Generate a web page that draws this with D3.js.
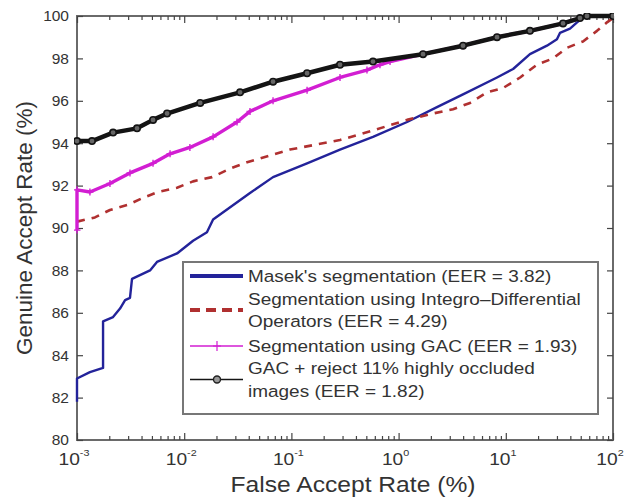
<!DOCTYPE html>
<meta charset="utf-8">
<html>
    <head>
        <style type="text/css">
            body { margin:0; background:#fff; }
            svg { display:block; }
            .graphText { font-family: "Liberation Sans", Arial, sans-serif; fill:#333; }
        </style>
        <script src="https://d3js.org/d3.v7.min.js"></script>
    </head>
    <body>
        <svg width="627" height="497"></svg>
        <script type="text/javascript">
            // FAR (%) vs GAR (%)
            var masekFar = [0.001, 0.001, 0.00132, 0.00175, 0.00175, 0.00217, 0.00252, 0.00281, 0.00312, 0.00326, 0.0048, 0.00557, 0.00857, 0.0121, 0.0163, 0.0186, 0.0411, 0.0674, 0.14, 0.284, 0.577, 1.2, 2.28, 3.99, 8.28, 11.7, 16.8, 24.2, 30, 32, 39.7, 46.2, 52.5, 57.2, 100];
            var masekGar = [81.8, 82.9, 83.2, 83.4, 85.6, 85.8, 86.2, 86.6, 86.7, 87.6, 88.0, 88.4, 88.8, 89.4, 89.8, 90.4, 91.65, 92.4, 93.05, 93.7, 94.3, 95.0, 95.7, 96.3, 97.1, 97.5, 98.2, 98.6, 98.9, 99.2, 99.4, 99.7, 99.9, 100, 100];

            var idoFar = [0.001, 0.00147, 0.00203, 0.00299, 0.00404, 0.0057, 0.00857, 0.0121, 0.0182, 0.0268, 0.0386, 0.097, 0.284, 0.577, 1.2, 2.09, 3.22, 4.64, 6.68, 9.42, 13.6, 19.5, 27.6, 37.2, 52.5, 70.9, 87.9, 100];
            var idoGar = [90.3, 90.5, 90.85, 91.1, 91.4, 91.7, 91.9, 92.2, 92.4, 92.8, 93.1, 93.7, 94.15, 94.6, 95.1, 95.4, 95.6, 95.9, 96.4, 96.6, 97.1, 97.7, 98.0, 98.5, 98.8, 99.3, 99.7, 99.9];

            var gacFar = [0.001, 0.001, 0.00132, 0.00203, 0.00312, 0.00512, 0.00738, 0.0113, 0.0186, 0.0311, 0.0411, 0.0674, 0.14, 0.284, 0.507, 0.67, 0.832, 1.69, 3.99, 8.28, 16.8, 34.2, 49.2, 57.2, 100];
            var gacGar = [89.9, 91.8, 91.7, 92.1, 92.6, 93.05, 93.5, 93.8, 94.3, 95.0, 95.5, 96.0, 96.5, 97.1, 97.45, 97.7, 97.85, 98.2, 98.6, 99.0, 99.3, 99.65, 99.9, 100, 100];

            var rejFar = [0.001, 0.00138, 0.00217, 0.00363, 0.00512, 0.00692, 0.0141, 0.0332, 0.0674, 0.14, 0.284, 0.577, 1.69, 3.99, 8.28, 16.8, 34.2, 49.2, 57.2, 100];
            var rejGar = [94.1, 94.1, 94.5, 94.7, 95.1, 95.4, 95.9, 96.4, 96.9, 97.3, 97.7, 97.85, 98.2, 98.6, 99.0, 99.3, 99.65, 99.9, 100, 100];

            var xTicks = [0.001, 0.01, 0.1, 1, 10, 100];
            var xExps = ["-3", "-2", "-1", "0", "1", "2"];
            var yTicks = [80, 82, 84, 86, 88, 90, 92, 94, 96, 98, 100];

            var legendLines = [
                ["Masek's segmentation (EER = 3.82)"],
                ["Segmentation using Integro\u2013Differential", "Operators (EER = 4.29)"],
                ["Segmentation using GAC (EER = 1.93)"],
                ["GAC + reject 11% highly occluded", "images (EER = 1.82)"]
            ];

            var margin = {top: 16, bottom: 57, left: 77, right: 14};
            var width = 627, height = 497;

            var xScale = d3.scaleLog()
                .domain([0.001, 100])
                .range([margin.left, width - margin.right]);
            var yScale = d3.scaleLinear()
                .domain([80, 100])
                .range([height - margin.bottom, margin.top]);

            var svg = d3.select("svg");

            var zip = (xs, ys) => xs.map((v, i) => [v, ys[i]]);
            var line = d3.line().x(d => xScale(d[0])).y(d => yScale(d[1]));

            var series = [
                {data: zip(masekFar, masekGar), color: "#23239a", width: 2.4, dash: null, marker: null},
                {data: zip(idoFar, idoGar), color: "#b03030", width: 2.6, dash: "8,7", marker: null},
                {data: zip(gacFar, gacGar), color: "#d21ed2", width: 3.4, dash: null, marker: "plus"},
                {data: zip(rejFar, rejGar), color: "#141414", width: 4.5, dash: null, marker: "circle"}
            ];

            var x0 = margin.left, x1 = width - margin.right;
            var y0 = height - margin.bottom, y1 = margin.top;

            // axes box
            svg.append("rect")
                .attr("x", x0).attr("y", y1)
                .attr("width", x1 - x0).attr("height", y0 - y1)
                .attr("fill", "none")
                .attr("stroke", "#6a6a6a")
                .attr("stroke-width", 2);

            // minor x ticks
            var minors = [];
            xTicks.slice(0, -1).forEach(t => {
                for (var k = 2; k <= 9; k++) minors.push(t * k);
            });
            svg.append("g").attr("transform", "translate(0," + y0 + ")")
                .call(d3.axisBottom(xScale).tickValues(minors).tickSize(-4).tickFormat(""));
            svg.append("g").attr("transform", "translate(0," + y1 + ")")
                .call(d3.axisTop(xScale).tickValues(minors).tickSize(-4).tickFormat(""));
            svg.append("g").attr("transform", "translate(0," + y0 + ")")
                .call(d3.axisBottom(xScale).tickValues(xTicks).tickSize(-7).tickFormat(""));
            svg.append("g").attr("transform", "translate(0," + y1 + ")")
                .call(d3.axisTop(xScale).tickValues(xTicks).tickSize(-7).tickFormat(""));

            svg.append("g").attr("class", "yl").attr("transform", "translate(" + x0 + ",0)")
                .call(d3.axisLeft(yScale).tickValues(yTicks).tickSize(-6).tickPadding(8).tickFormat(d3.format("d")));
            svg.append("g").attr("transform", "translate(" + x1 + ",0)")
                .call(d3.axisRight(yScale).tickValues(yTicks).tickSize(-6).tickFormat(""));

            svg.selectAll(".domain").remove();
            svg.selectAll(".tick line").attr("stroke", "#444").attr("stroke-width", 1.2);

            svg.selectAll(".yl .tick text")
                .attr("class", "graphText")
                .style("font-size", "15.5px")
                .attr("fill", "#333");

            // curves, drawn over the box like MATLAB does
            var plot = svg.append("g");
            plot.append("clipPath").attr("id", "clip")
                .append("rect")
                .attr("x", margin.left - 3).attr("y", margin.top - 3)
                .attr("width", width - margin.left - margin.right + 4)
                .attr("height", height - margin.top - margin.bottom + 3);

            series.forEach(s => {
                var g = plot.append("g").attr("clip-path", "url(#clip)");
                g.append("path")
                    .attr("d", line(s.data))
                    .attr("fill", "none")
                    .attr("stroke", s.color)
                    .attr("stroke-width", s.width)
                    .attr("stroke-dasharray", s.dash)
                    .attr("stroke-linejoin", "round");
                if (s.marker === "plus") {
                    g.selectAll(".m").data(s.data).enter().append("path")
                        .attr("d", d => {
                            var x = xScale(d[0]), y = yScale(d[1]);
                            return "M" + (x - 3.5) + "," + y + "h7M" + x + "," + (y - 3.5) + "v7";
                        })
                        .attr("stroke", s.color).attr("stroke-width", 1.4);
                }
                if (s.marker === "circle") {
                    g.selectAll(".m").data(s.data).enter().append("circle")
                        .attr("cx", d => xScale(d[0]))
                        .attr("cy", d => yScale(d[1]))
                        .attr("r", 3.2)
                        .attr("fill", "#666")
                        .attr("stroke", s.color).attr("stroke-width", 1.6);
                }
            });

            // x tick labels 10^n
            var xl = svg.append("g");
            xTicks.forEach((t, i) => {
                var tx = xl.append("text")
                    .attr("class", "graphText")
                    .attr("transform", "translate(" + (xScale(t) - 3) + "," + (y0 + 25) + ") scale(1.2,1)")
                    .attr("text-anchor", "middle")
                    .style("font-size", "16px");
                tx.append("tspan").text("10");
                tx.append("tspan").attr("dy", -9).style("font-size", "9px").text(xExps[i]);
            });

            // axis titles
            svg.append("text")
                .attr("class", "graphText")
                .attr("transform", "translate(" + ((x0 + x1) / 2 + 8) + "," + (height - 5) + ") scale(1.12,1)")
                .attr("text-anchor", "middle")
                .style("font-size", "22px")
                .text("False Accept Rate (%)");

            svg.append("text")
                .attr("class", "graphText")
                .attr("transform", "translate(32," + ((y0 + y1) / 2) + ") rotate(-90)")
                .attr("text-anchor", "middle")
                .style("font-size", "22.5px")
                .text("Genuine Accept Rate (%)");

            // legend
            var lg = svg.append("g");
            lg.append("rect")
                .attr("x", 183).attr("y", 262)
                .attr("width", 415).attr("height", 152)
                .attr("fill", "#fff")
                .attr("stroke", "#777")
                .attr("stroke-width", 2);

            var rowY = [[276], [299, 321], [346], [368, 391]];
            series.forEach((s, i) => {
                var ys = rowY[i];
                var cy = (ys[0] + ys[ys.length - 1]) / 2;
                lg.append("line")
                    .attr("x1", 190).attr("x2", 243)
                    .attr("y1", cy).attr("y2", cy)
                    .attr("stroke", s.color)
                    .attr("stroke-width", i < 2 ? 4 : 1.4)
                    .attr("stroke-dasharray", i === 1 ? "10,6" : null);
                if (s.marker === "plus") {
                    lg.append("path")
                        .attr("d", "M213," + cy + "h8M217," + (cy - 5) + "v10")
                        .attr("stroke", s.color).attr("stroke-width", 1.2);
                }
                if (s.marker === "circle") {
                    lg.append("circle")
                        .attr("cx", 217).attr("cy", cy).attr("r", 3.5)
                        .attr("fill", "#999").attr("stroke", "#222").attr("stroke-width", 1.4);
                }
                legendLines[i].forEach((t, j) => {
                    lg.append("text")
                        .attr("class", "graphText")
                        .attr("transform", "translate(248," + (ys[j] + 5.5) + ") scale(1.15,1)")
                        .style("font-size", "16.5px")
                        .text(t);
                });
            });
        </script>
    </body>
</html>
